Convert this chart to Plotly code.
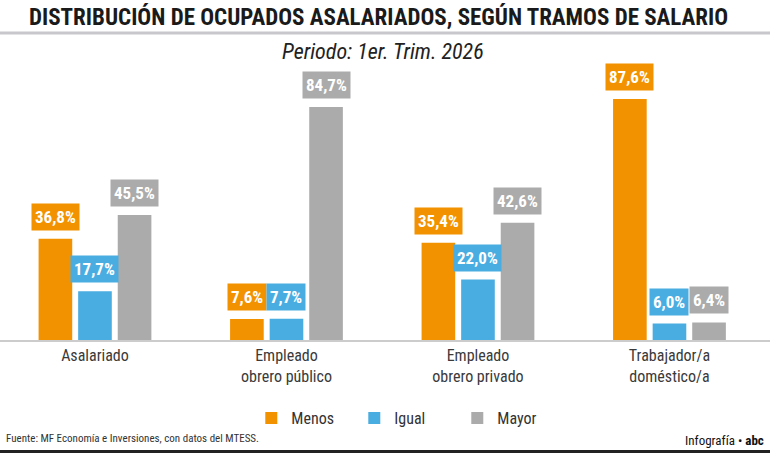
import plotly.graph_objects as go

categories = ["Asalariado", "Empleado<br>obrero público", "Empleado<br>obrero privado", "Trabajador/a<br>doméstico/a"]
series_names = ["Menos", "Igual", "Mayor"]
menos = [36.8, 7.6, 35.4, 87.6]
igual = [17.7, 7.7, 22.0, 6.0]
mayor = [45.5, 84.7, 42.6, 6.4]
colors = ["#F39200", "#4AADE1", "#ABABAB"]

FONT = "Liberation Sans Narrow, Roboto Condensed, DejaVu Sans Condensed, Roboto, sans-serif"

fig = go.Figure()
all_vals = [menos, igual, mayor]
for name, vals, c in zip(series_names, all_vals, colors):
    fig.add_trace(go.Bar(x=list(range(len(categories))), y=vals, name=name,
                         marker=dict(color=c, line=dict(width=0))))

bargap = 0.38
slot = (1 - bargap) / 3
annotations = []
for j, (vals, c) in enumerate(zip(all_vals, colors)):
    for i, v in enumerate(vals):
        annotations.append(dict(
            x=i + (j - 1) * slot, y=v, xref="x", yref="y",
            text="<b>" + f"{v:.1f}".replace(".", ",") + "%</b>",
            showarrow=False, yanchor="bottom", yshift=8,
            font=dict(family=FONT, size=17, color="white"),
            bgcolor=c, borderpad=3,
        ))


def pix_y(py):
    top, bottom = 65, 340
    return (bottom - py) / (bottom - top)


annotations.append(dict(text="<b>DISTRIBUCIÓN DE OCUPADOS ASALARIADOS, SEGÚN TRAMOS DE SALARIO</b>",
                        x=0.492, y=pix_y(17), xref="paper", yref="paper", showarrow=False,
                        yanchor="middle", font=dict(family=FONT, size=23, color="#1a1a1a")))
annotations.append(dict(text="<i>Periodo: 1er. Trim. 2026</i>",
                        x=0.498, y=pix_y(52), xref="paper", yref="paper", showarrow=False,
                        yanchor="middle", font=dict(family=FONT, size=22, color="#222222")))
annotations.append(dict(text="Fuente: MF Economía e Inversiones, con datos del MTESS.",
                        x=0.005, y=pix_y(438), xref="paper", yref="paper", showarrow=False,
                        xanchor="left", yanchor="middle", font=dict(family=FONT, size=11, color="#333333")))
annotations.append(dict(text="Infografía • <b>abc</b>",
                        x=0.995, y=pix_y(440), xref="paper", yref="paper", showarrow=False,
                        xanchor="right", yanchor="middle", font=dict(family=FONT, size=13, color="#111111")))

shapes = [
    dict(type="line", xref="paper", yref="paper", x0=0, x1=1, y0=pix_y(33), y1=pix_y(33),
         line=dict(color="#C8C8CC", width=3)),
    dict(type="line", xref="paper", yref="paper", x0=0, x1=1, y0=pix_y(451.5), y1=pix_y(451.5),
         line=dict(color="#222222", width=3)),
]

fig.update_layout(
    width=770, height=453,
    margin=dict(l=0, r=0, t=65, b=113),
    paper_bgcolor="white", plot_bgcolor="white",
    barmode="group", bargap=bargap, bargroupgap=0.15,
    font=dict(family=FONT, color="#333333"),
    xaxis=dict(tickmode="array", tickvals=list(range(len(categories))), ticktext=categories,
               range=[-0.496, 3.525],
               showline=True, linecolor="#CCCCCC", linewidth=1.5, ticks="",
               tickfont=dict(family=FONT, size=16, color="#3a3a3a"), showgrid=False),
    yaxis=dict(range=[0, 100], visible=False, showgrid=False),
    legend=dict(orientation="h", x=0.527, xanchor="center", y=pix_y(418), yanchor="middle",
                font=dict(family=FONT, size=16, color="#333333"), entrywidth=58, itemwidth=30,
                traceorder="normal"),
    annotations=annotations, shapes=shapes,
    showlegend=True,
)

fig.write_html("out.html")
